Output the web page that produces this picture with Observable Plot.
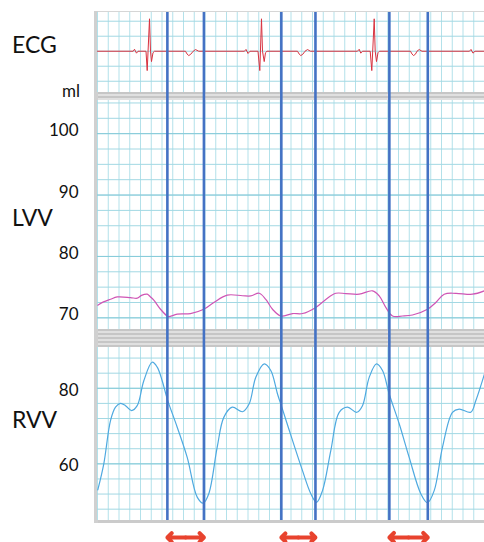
<!DOCTYPE html>
<html><head><meta charset="utf-8">
<script src="https://cdn.jsdelivr.net/npm/d3@7"></script>
<script src="https://cdn.jsdelivr.net/npm/@observablehq/plot@0.6"></script>
<style>
html,body{margin:0;padding:0;background:#fff;}
#chart{position:relative;width:484px;height:542px;overflow:hidden;background:#fff;font-family:Lato,"Open Sans",sans-serif;color:#111;}
#chart svg{position:absolute;left:0;}
.band{position:absolute;}
.lbl{position:absolute;line-height:1;white-space:nowrap;color:#111;}
</style></head><body><div id="chart"></div>
<script>
// ---- data (time in ms) ----
const panelNames = ["ECG", "LVV", "RVV"];
const unitLabel = "ml";

const ecgTime = [0,132.8,137.7,145.1,150.7,180.5,184.9,193.5,197.2,200.9,206.5,212.1,
  327.4,333,339.7,347,356.1,364.7,376.9,
  547.0,552.6,560.0,567.4,597.2,603.9,610.2,614.0,620.3,625.1,630.7,
  744.2,750,756.5,764,772.1,781.4,792.6,
  967.4,973.8,979.7,986.0,1014.7,1020.6,1029.6,1033.3,1038.1,1043.7,1049.3,
  1164.6,1170,1175.8,1183,1188.8,1197.0,1207.4,
  1384.2,1389.8,1397.2,1404.7,1440];
const ecgMv = [0,0,0.013,-0.013,0,0,-0.129,0.216,0,-0.069,-0.01,0,
  0,-0.018,-0.029,-0.02,0,0.011,0,
  0,0.012,-0.015,0,0,-0.129,0.216,0,-0.069,-0.01,0,
  0,-0.018,-0.029,-0.02,0,0.011,0,
  0,0.013,-0.013,0,0,-0.129,0.216,0,-0.069,-0.01,0,
  0,-0.018,-0.029,-0.02,0,0.011,0,
  0,0.012,-0.013,0,0];

const lvvTime = [1.1,22.3,48.4,73.3,122.8,147.7,163.7,184.9,197.2,209.5,234.4,259.3,265.3,296.6,346.0,395.5,432.7,482.6,
  539.5,570.4,601.7,626.2,651.2,682.0,725.6,762.8,812.3,849.5,886.7,923.9,973.8,1023.3,1048.2,1072.7,1097.7,1134.9,
  1172.1,1227.9,1258.8,1290.0,1333.2,1395.3,1440];
const lvvMl = [72.06,72.6,73.03,73.4,73.3,73.2,73.65,73.85,73.4,72.87,71.4,70.3,70.2,70.6,70.7,71.4,72.5,73.7,
  73.6,73.57,74.0,73.0,71.4,70.3,70.7,70.7,71.7,73.0,74.0,73.95,73.85,74.4,73.57,71.7,70.3,70.3,
  70.46,71.4,72.5,73.85,74.0,73.85,74.4];

const rvvTime = [1.1,23.4,48.4,67.0,85.6,104.2,126.5,147.7,172.3,203.5,222.1,240.7,259.3,296.6,333.8,371.0,393.3,414.1,445.4,470.0,501.2,
  539.5,564.5,589.0,620.3,644.8,669.8,685.8,725.6,762.8,793.7,814.9,837.2,868.1,899.4,930.2,964.8,
  986.0,1011.0,1038.1,1060.5,1085.4,1122.6,1159.8,1203.0,1227.9,1252.8,1283.7,1320.9,1345.8,1389.0,1407.6,1440];
const rvvMl = [53.1,60.0,71.45,75.0,76.0,75.4,74.1,75.4,82.0,86.9,85.6,82.0,77.2,69.7,61.7,51.2,49.6,52.1,64.4,72.3,75.0,
  73.8,75.9,82.9,86.45,84.7,78.5,75.0,66.2,58.2,52.1,49.8,52.9,63.5,73.65,75.0,73.65,
  75.4,82.9,86.45,84.7,78.5,70.6,61.7,52.1,49.7,52.9,64.4,73.65,74.5,73.65,76.7,83.8];

const lvvTicks = [70, 80, 90, 100];
const rvvTicks = [60, 80];
const markerStart = [260, 684, 1086];
const markerEnd = [396, 811, 1229];

// ---- build ----
const chart = document.getElementById("chart");
const xDomain = [0, 1440];
const gridT = d3.range(0, 1441, 40);
const gridV = "#b3e1ea", gridH = "#a2d8e3", gridMajor = "#86cbd9";
const common = {width: 484, marginLeft: 97, marginRight: 0,
  x: {domain: xDomain, axis: null},
  style: {background: "transparent", overflow: "visible", fontFamily: "Lato, 'Open Sans', sans-serif", color: "#111"}};

function band(top, height, left, width, bg) {
  const d = document.createElement("div");
  d.className = "band";
  Object.assign(d.style, {top: top + "px", height: height + "px", left: left + "px", width: width + "px", background: bg});
  chart.appendChild(d);
}
const stripes = "repeating-linear-gradient(to bottom,#c6c6c6 0px,#c6c6c6 2px,#e0e0e0 2px,#e0e0e0 4px)";
band(10.5, 1.5, 94, 390, "#d6d6d6");
band(92, 8, 94, 390, stripes);
band(329, 18, 94, 390, stripes);
band(519.5, 3.5, 94, 390, "#cbcbcb");
band(10.5, 512.5, 94, 3.5, "#d0d0d0");

function place(svg, top) { svg.style.top = top + "px"; chart.appendChild(svg); }

const ecgData = ecgTime.map((t, i) => ({t, v: ecgMv[i]}));
const lvvData = lvvTime.map((t, i) => ({t, v: lvvMl[i]}));
const rvvData = rvvTime.map((t, i) => ({t, v: rvvMl[i]}));

place(Plot.plot({...common, height: 100, marginTop: 12, marginBottom: 8,
  y: {domain: [-0.275, 0.258], axis: null},
  marks: [
    Plot.ruleX(gridT, {stroke: gridV, strokeWidth: 1}),
    Plot.ruleY([-0.2, -0.1, 0, 0.1, 0.2], {stroke: gridH, strokeWidth: 1}),
    Plot.line(ecgData, {x: "t", y: "v", stroke: "#d8323f", strokeWidth: 1})
  ]}), 0);

place(Plot.plot({...common, height: 229, marginTop: 0, marginBottom: 0,
  y: {domain: [68.1, 105.4]},
  marks: [
    Plot.ruleX(gridT, {stroke: gridV, strokeWidth: 1}),
    Plot.ruleY(d3.range(70, 105.1, 2.5), {stroke: gridH, strokeWidth: 1}),
    Plot.ruleY(lvvTicks, {stroke: gridMajor, strokeWidth: 1}),
    Plot.axisY({ticks: lvvTicks, tickSize: 0, tickPadding: 19, fontSize: 17, dy: -3, label: null}),
    Plot.line(lvvData, {x: "t", y: "v", curve: "catmull-rom", stroke: "#cf55b5", strokeWidth: 1.2})
  ]}), 100);

place(Plot.plot({...common, height: 173, marginTop: 0, marginBottom: 0,
  y: {domain: [45, 90.8]},
  marks: [
    Plot.ruleX(gridT, {stroke: gridV, strokeWidth: 1}),
    Plot.ruleY(d3.range(48, 89, 4), {stroke: gridH, strokeWidth: 1}),
    Plot.ruleY(rvvTicks, {stroke: gridMajor, strokeWidth: 1}),
    Plot.axisY({ticks: rvvTicks, tickSize: 0, tickPadding: 19, fontSize: 17, dy: 2, label: null}),
    Plot.line(rvvData, {x: "t", y: "v", curve: "catmull-rom", stroke: "#4ea9e0", strokeWidth: 1.2})
  ]}), 347);

const arrows = [];
markerStart.forEach((s, i) => {
  const m = (s + markerEnd[i]) / 2;
  arrows.push({a: m, b: s}, {a: m, b: markerEnd[i]});
});
const overlay = Plot.plot({...common, height: 542, marginTop: 12, marginBottom: 22,
  y: {domain: [0, 1], axis: null},
  marks: [
    Plot.ruleX([...markerStart, ...markerEnd], {stroke: "#4472c4", strokeWidth: 2.6}),
    Plot.arrow(arrows, {x1: "a", x2: "b", y1: 0, y2: 0, dy: 17, stroke: "#e8432e", strokeWidth: 4, headLength: 9, headAngle: 90})
  ]});
overlay.style.pointerEvents = "none";
place(overlay, 0);

function label(text, left, top, size, right) {
  const d = document.createElement("div");
  d.className = "lbl";
  d.textContent = text;
  d.style.top = top + "px";
  d.style.fontSize = size + "px";
  if (right != null) { d.style.right = right + "px"; } else { d.style.left = left + "px"; }
  chart.appendChild(d);
}
label(panelNames[0], 12, 33, 23);
label(panelNames[1], 12, 206, 23);
label(panelNames[2], 12, 408, 23);
label(unitLabel, null, 82, 17, 404);
</script></body></html>
